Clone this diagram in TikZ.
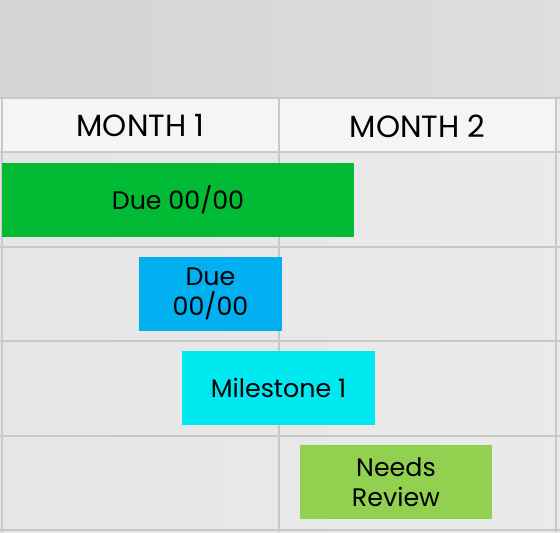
\documentclass[tikz,border=0pt]{standalone}
\usepackage{fontspec}
\setmainfont{Poppins}
\usepackage{xcolor}
\usetikzlibrary{positioning}

\definecolor{gridgray}{HTML}{C8C8C8}
\definecolor{barGreen}{HTML}{00BB33}
\definecolor{barBlue}{HTML}{00B0F0}
\definecolor{barCyan}{HTML}{00E8F0}
\definecolor{barLime}{HTML}{92D050}

\begin{document}
\begin{tikzpicture}[x=0.75pt,y=-0.75pt,
	bar/.style={inner sep=0pt,minimum height=55.5pt,align=center,font=\fontsize{19}{22.5}\selectfont},
	month/.style={font=\fontsize{23}{26}\selectfont},
	grid line/.style={gridgray,line width=1.5pt}]
	\useasboundingbox (0,0) rectangle (560,532);
	% backgrounds
	\shade[left color=black!17,right color=black!13] (0,0) rectangle (560,98);
	\shade[left color=black!10,right color=black!8] (0,98) rectangle (560,532);
	\fill[black!4] (0,98) rectangle (556,152);
	% grid
	\foreach \y in {98,152,247,341,436,530}
		\draw[grid line] (0,\y) -- (560,\y);
	\foreach \x in {2,279,556}
		\draw[grid line] (\x,98) -- (\x,532);
	% header
	\node[month] (m1) at (140.5,126) {MONTH 1};
	\node[month] (m2) at (417.5,126) {MONTH 2};
	% bars
	\node[bar,fill=barGreen,minimum width=264pt] (due1) at (178,200) {Due 00/00};
	\node[bar,fill=barBlue,minimum width=107.25pt] (due2) at (210.5,294) {Due\\00/00};
	\node[bar,fill=barCyan,minimum width=144.75pt] (ms1) at (278.5,388) {Milestone 1};
	\node[bar,fill=barLime,minimum width=144pt] (review) at (396,482) {Needs\\Review};
\end{tikzpicture}
\end{document}
